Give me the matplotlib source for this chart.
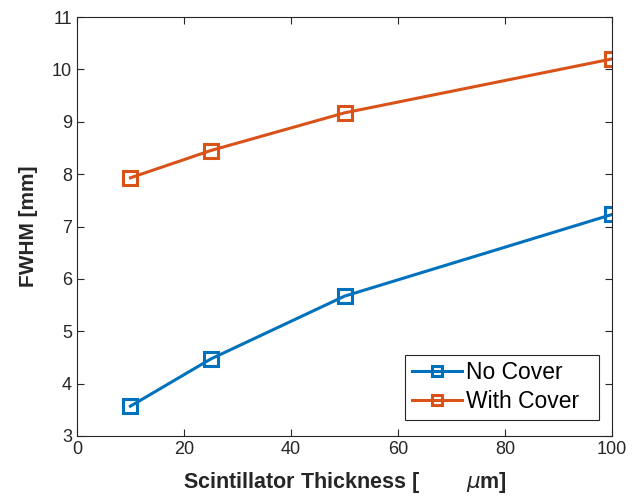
import numpy as np
import matplotlib.pyplot as plt

plt.rcParams['font.family'] = ['Liberation Sans', 'DejaVu Sans']
plt.rcParams['mathtext.fontset'] = 'dejavusans'

thickness = [10, 25, 50, 100]
fwhm_no_cover = [3.57, 4.47, 5.67, 7.23]
fwhm_with_cover = [7.93, 8.45, 9.17, 10.2]

fig = plt.figure(figsize=(6.41, 5.0), dpi=100)
ax = fig.add_axes([0.12, 0.128, 0.835, 0.838])

ax.plot(thickness, fwhm_no_cover, '-s', color='#0072BD', lw=2.2,
        ms=10.5, mfc='none', mew=2.2, label='No Cover')
ax.plot(thickness, fwhm_with_cover, '-s', color='#D95319', lw=2.2,
        ms=10.5, mfc='none', mew=2.2, label='With Cover')

ax.set_xlim(0, 100)
ax.set_ylim(3, 11)
ax.set_xticks(np.arange(0, 101, 20))
ax.set_yticks(np.arange(3, 12, 1))
ax.tick_params(direction='in', top=True, right=True, labelsize=13,
               colors='#262626', length=5, width=0.8)
for s in ax.spines.values():
    s.set_color('#262626')
    s.set_linewidth(0.8)

ax.set_xlabel('Scintillator Thickness [        $\\mu$m]', fontsize=15.5,
              fontweight='bold', color='#262626', labelpad=9)
ax.set_ylabel('FWHM [mm]', fontsize=15, fontweight='bold', color='#262626',
              labelpad=10)

leg = ax.legend(loc='lower left', fontsize=16.5, fancybox=False,
                edgecolor='#262626', framealpha=1, handlelength=2.2,
                handletextpad=0.15, borderpad=0.3, labelspacing=0.25,
                borderaxespad=0, mode='expand', markerscale=0.75,
                bbox_to_anchor=(0.613, 0.038, 0.363, 0.1))
leg.get_frame().set_linewidth(0.8)

plt.savefig('out.png', dpi=100)
